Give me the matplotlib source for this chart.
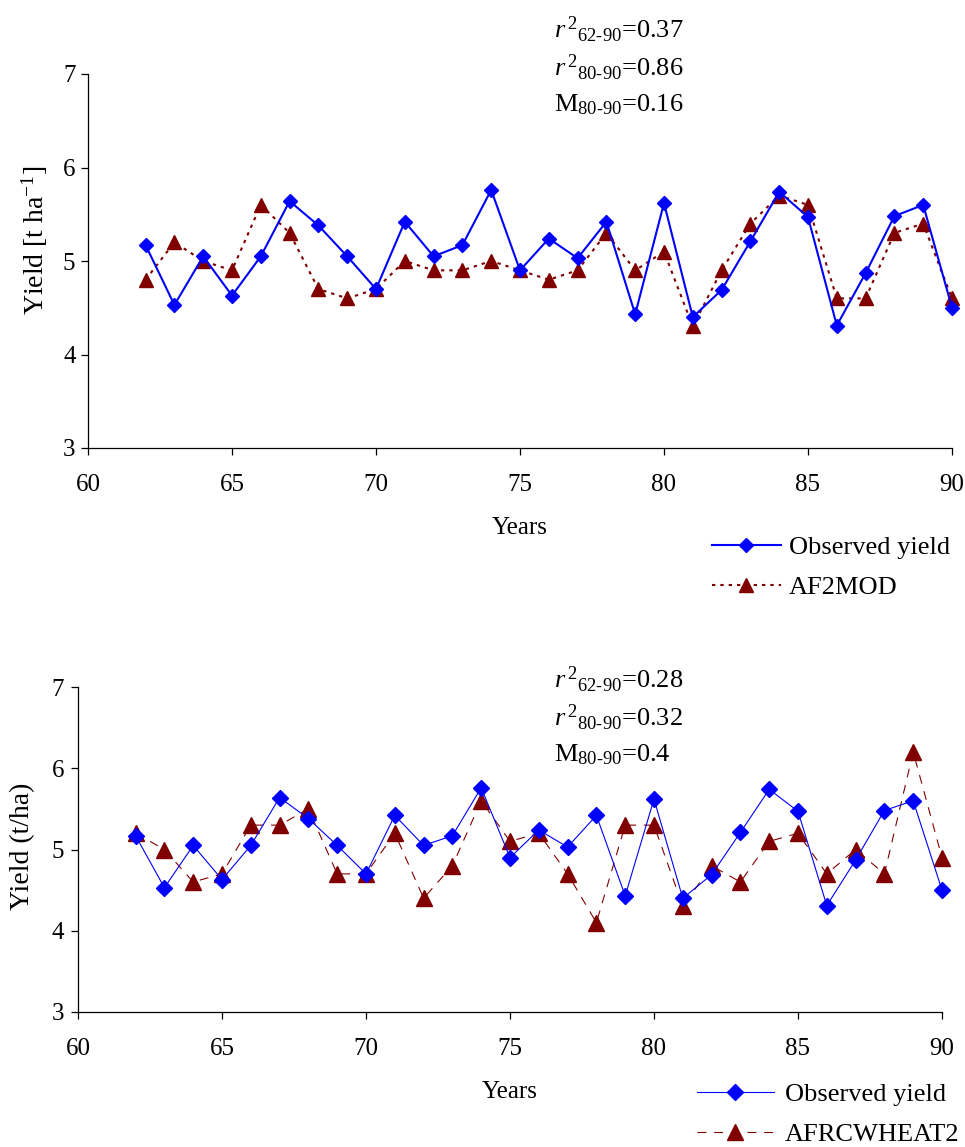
import matplotlib
matplotlib.use("Agg")
import matplotlib.pyplot as plt

# === data ===
years = list(range(62, 91))
observed = [5.17, 4.53, 5.05, 4.63, 5.05, 5.64, 5.38, 5.05, 4.70, 5.42,
            5.05, 5.17, 5.76, 4.90, 5.24, 5.03, 5.42, 4.43, 5.62, 4.40,
            4.69, 5.21, 5.74, 5.47, 4.31, 4.87, 5.48, 5.60, 4.50]
af2mod = [4.8, 5.2, 5.0, 4.9, 5.6, 5.3, 4.7, 4.6, 4.7, 5.0,
          4.9, 4.9, 5.0, 4.9, 4.8, 4.9, 5.3, 4.9, 5.1, 4.3,
          4.9, 5.4, 5.7, 5.6, 4.6, 4.6, 5.3, 5.4, 4.6]
afrcwheat2 = [5.2, 5.0, 4.6, 4.7, 5.3, 5.3, 5.5, 4.7, 4.7, 5.2,
              4.4, 4.8, 5.6, 5.1, 5.2, 4.7, 4.1, 5.3, 5.3, 4.3,
              4.8, 4.6, 5.1, 5.2, 4.7, 5.0, 4.7, 6.2, 4.9]
xticks = [60, 65, 70, 75, 80, 85, 90]
yticks = [3, 4, 5, 6, 7]
stats_top = [r"$r^{\,2}{}_{62\text{-}90}$=0.37", r"$r^{\,2}{}_{80\text{-}90}$=0.86", r"M$_{80\text{-}90}$=0.16"]
stats_bot = [r"$r^{\,2}{}_{62\text{-}90}$=0.28", r"$r^{\,2}{}_{80\text{-}90}$=0.32", r"M$_{80\text{-}90}$=0.4"]

plt.rcParams['font.family'] = ['Liberation Serif', 'DejaVu Serif']
plt.rcParams['mathtext.fontset'] = 'custom'
plt.rcParams['mathtext.rm'] = 'Liberation Serif'
plt.rcParams['mathtext.it'] = 'Liberation Serif:italic'

W, H = 965, 1147
fig = plt.figure(figsize=(W / 100, H / 100), dpi=100)

BLUE = '#0000FF'
RED = '#800000'


def px_axes(l, t, r, b):
    return fig.add_axes([l / W, 1 - b / H, (r - l) / W, (b - t) / H])


def style(ax, ylabel, lab_xy, ypad):
    ax.set_xlim(60, 90)
    ax.set_ylim(3, 7)
    ax.set_xticks(xticks)
    ax.set_yticks(yticks)
    for s in ['top', 'right']:
        ax.spines[s].set_visible(False)
    for s in ['left', 'bottom']:
        ax.spines[s].set_linewidth(0.9)
    ax.tick_params(axis='both', direction='out', length=5, width=0.9, labelsize=18)
    ax.tick_params(axis='x', pad=14)
    ax.tick_params(axis='y', pad=ypad)
    ax.set_xlabel("Years", fontsize=18, labelpad=15)
    ax.set_ylabel(ylabel, fontsize=20)
    ax.yaxis.set_label_coords(*lab_xy)


# === 1. graphique du haut ===
ax1 = px_axes(88, 74, 952, 448)
ax1.plot(years, observed, color=BLUE, lw=1.5, marker='D', ms=7.3,
         label="Observed yield", clip_on=False, zorder=3)
ax1.plot(years, af2mod, color=RED, lw=1.5, ls=(0, (1.6, 2.4)), marker='^', ms=9.5,
         label="AF2MOD", clip_on=False, zorder=2)
style(ax1, "Yield [t ha$^{-1}$]", (-0.044, 0.554), 4)
fig.legend(*ax1.get_legend_handles_labels(), loc='upper left',
           bbox_to_anchor=(712 / W, 1 - 536 / H), frameon=False, fontsize=19,
           handlelength=2.6, handletextpad=0.3, labelspacing=0.62,
           borderpad=0, borderaxespad=0)

for i, s in enumerate(stats_top):
    fig.text(554 / W, 1 - [38, 76, 111][i] / H, s, fontsize=19, va='baseline')

# === 2. graphique du bas ===
ax2 = px_axes(78, 687, 942, 1012)
ax2.plot(years, observed, color=BLUE, lw=0.8, marker='D', ms=8.2,
         label="Observed yield", clip_on=False, zorder=3)
ax2.plot(years, afrcwheat2, color=RED, lw=0.8, ls=(0, (8, 7)), marker='^', ms=11,
         label="AFRCWHEAT2", clip_on=False, zorder=2)
style(ax2, "Yield (t/ha)", (-0.05, 0.51), 5)
fig.legend(*ax2.get_legend_handles_labels(), loc='upper left',
           bbox_to_anchor=(697 / W, 1 - 1083 / H), frameon=False, fontsize=19,
           handlelength=2.9, handletextpad=0.42, labelspacing=0.62,
           borderpad=0, borderaxespad=0)

for i, s in enumerate(stats_bot):
    fig.text(554 / W, 1 - [688, 726, 761][i] / H, s, fontsize=19, va='baseline')

fig.savefig("out.png", dpi=100)
